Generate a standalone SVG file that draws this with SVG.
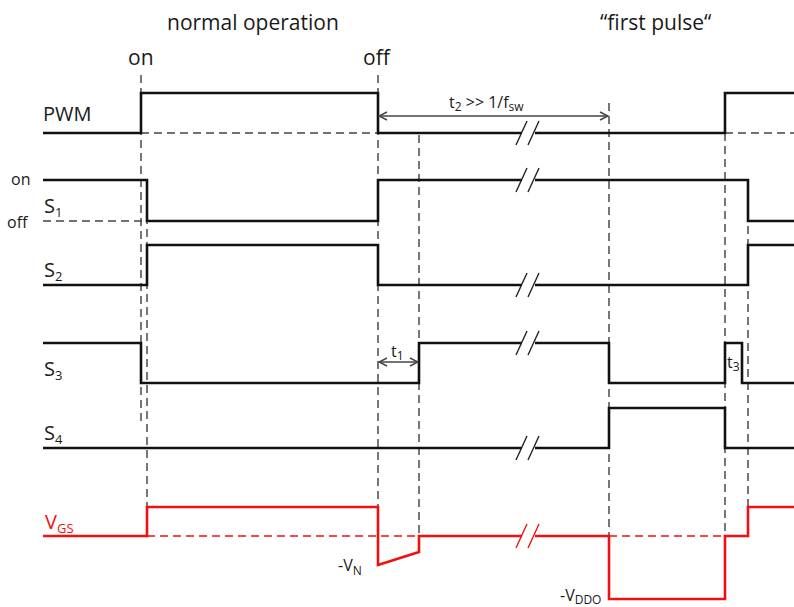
<svg xmlns="http://www.w3.org/2000/svg" width="794" height="607" viewBox="0 0 794 607">
<style>
text{font-family:"Open Sans","Noto Sans","Liberation Sans",sans-serif;fill:#1a1a1a}
.sig{fill:none;stroke:#111;stroke-width:2.6;stroke-linejoin:miter}
.red{fill:none;stroke:#ee1111;stroke-width:2.6}
.vd{stroke:#555;stroke-width:1.6;stroke-dasharray:8,5;fill:none}
.bd{stroke:#444;stroke-width:1.4;stroke-dasharray:8,5;fill:none}
.rd{stroke:#ee1111;stroke-width:1.4;stroke-dasharray:8,5;fill:none}
.arr{stroke:#444;stroke-width:1.4;fill:none}
.sl{stroke:#222;stroke-width:1.4}
.lab{font-size:20px}
.big{font-size:21px}
.sm{font-size:16px}
.sub{font-size:13px}
</style>
<defs>
<marker id="ah" viewBox="0 0 10 10" refX="9" refY="5" markerWidth="10" markerHeight="10" markerUnits="userSpaceOnUse" orient="auto-start-reverse">
<path d="M1,1 L9,5 L1,9" fill="none" stroke="#444" stroke-width="1.4"/>
</marker>
</defs>
<rect width="794" height="607" fill="#fff"/>

<g id="titles">
<text class="big" x="167" y="30">normal operation</text>
<text class="big" x="600" y="30">“first pulse“</text>
<text class="big" x="128" y="65">on</text>
<text class="big" x="363" y="65">off</text>
</g>

<g id="guides">
<line class="vd" x1="141" y1="75" x2="141" y2="425"/>
<line class="vd" x1="147" y1="190" x2="147" y2="507"/>
<line class="vd" x1="378" y1="75" x2="378" y2="520"/>
<line class="vd" x1="419" y1="135" x2="419" y2="536"/>
<line class="vd" x1="609" y1="103" x2="609" y2="536"/>
<line class="vd" x1="725" y1="133" x2="725" y2="536"/>
<line class="vd" x1="748" y1="200" x2="748" y2="507"/>
<line class="bd" x1="141" y1="133" x2="378" y2="133"/>
<line class="bd" x1="725" y1="133" x2="794" y2="133"/>
<line class="bd" x1="43" y1="221" x2="147" y2="221"/>
<line class="rd" x1="147" y1="536" x2="419" y2="536"/>
<line class="rd" x1="609" y1="536" x2="725" y2="536"/>
</g>

<g id="PWM">
<text class="lab" x="43" y="121">PWM</text>
<polyline class="sig" points="43,133 141,133 141,93 378,93 378,133 725,133 725,93 794,93"/>
</g>

<g id="S1">
<text class="sm" x="11" y="185">on</text>
<text class="sm" x="7" y="228">off</text>
<text class="lab" x="44" y="213">S<tspan class="sub" dy="4">1</tspan></text>
<polyline class="sig" points="43,180 147,180 147,221 378,221 378,180 748,180 748,221 794,221"/>
</g>

<g id="S2">
<text class="lab" x="44" y="277">S<tspan class="sub" dy="4">2</tspan></text>
<polyline class="sig" points="43,285 147,285 147,245 378,245 378,285 748,285 748,245 794,245"/>
</g>

<g id="S3">
<text class="lab" x="44" y="376">S<tspan class="sub" dy="4">3</tspan></text>
<polyline class="sig" points="43,343 141,343 141,383 419,383 419,343 609,343 609,383 725,383 725,343 742,343 742,383 794,383"/>
</g>

<g id="S4">
<text class="lab" x="44" y="440">S<tspan class="sub" dy="4">4</tspan></text>
<polyline class="sig" points="43,448 609,448 609,408 725,408 725,448 794,448"/>
</g>

<g id="VGS">
<text class="lab" x="45" y="529" style="fill:#ee1111">V<tspan class="sub" dy="4" style="fill:#ee1111">GS</tspan></text>
<polyline class="red" points="43,536 147,536 147,507 378,507 378,565 419,552 419,536 609,536 609,599 725,599 725,536 748,536 748,507 794,507"/>
<text class="sm" x="338" y="571">-V<tspan font-size="12" dy="4">N</tspan></text>
<text class="sm" x="560" y="601">-V<tspan font-size="12" dy="3">DDO</tspan></text>
</g>

<g id="breaks">
<rect x="522" y="128" width="13" height="10" fill="#fff"/>
<line class="sl" x1="516" y1="145" x2="527" y2="121"/><line class="sl" x1="528" y1="145" x2="539" y2="121"/>
<rect x="522" y="175" width="13" height="10" fill="#fff"/>
<line class="sl" x1="516" y1="192" x2="527" y2="168"/><line class="sl" x1="528" y1="192" x2="539" y2="168"/>
<rect x="522" y="280" width="13" height="10" fill="#fff"/>
<line class="sl" x1="516" y1="297" x2="527" y2="273"/><line class="sl" x1="528" y1="297" x2="539" y2="273"/>
<rect x="522" y="338" width="13" height="10" fill="#fff"/>
<line class="sl" x1="516" y1="355" x2="527" y2="331"/><line class="sl" x1="528" y1="355" x2="539" y2="331"/>
<rect x="522" y="443" width="13" height="10" fill="#fff"/>
<line class="sl" x1="516" y1="460" x2="527" y2="436"/><line class="sl" x1="528" y1="460" x2="539" y2="436"/>
<rect x="522" y="531" width="13" height="10" fill="#fff"/>
<line class="sl" x1="516" y1="548" x2="527" y2="524" style="stroke:#ee1111"/><line class="sl" x1="528" y1="548" x2="539" y2="524" style="stroke:#ee1111"/>
</g>

<g id="timing">
<line class="arr" x1="379" y1="116" x2="608" y2="116" marker-start="url(#ah)" marker-end="url(#ah)"/>
<text class="sm" x="449" y="108">t<tspan font-size="12" dy="3">2</tspan><tspan dy="-3"> &gt;&gt; 1/f</tspan><tspan font-size="12" dy="3">sw</tspan></text>
<line class="arr" x1="379" y1="362" x2="418" y2="362" marker-start="url(#ah)" marker-end="url(#ah)"/>
<text class="sm" x="391" y="357">t<tspan font-size="12" dy="3">1</tspan></text>
<text class="sm" x="727" y="368">t<tspan font-size="12" dy="3">3</tspan></text>
</g>
</svg>
